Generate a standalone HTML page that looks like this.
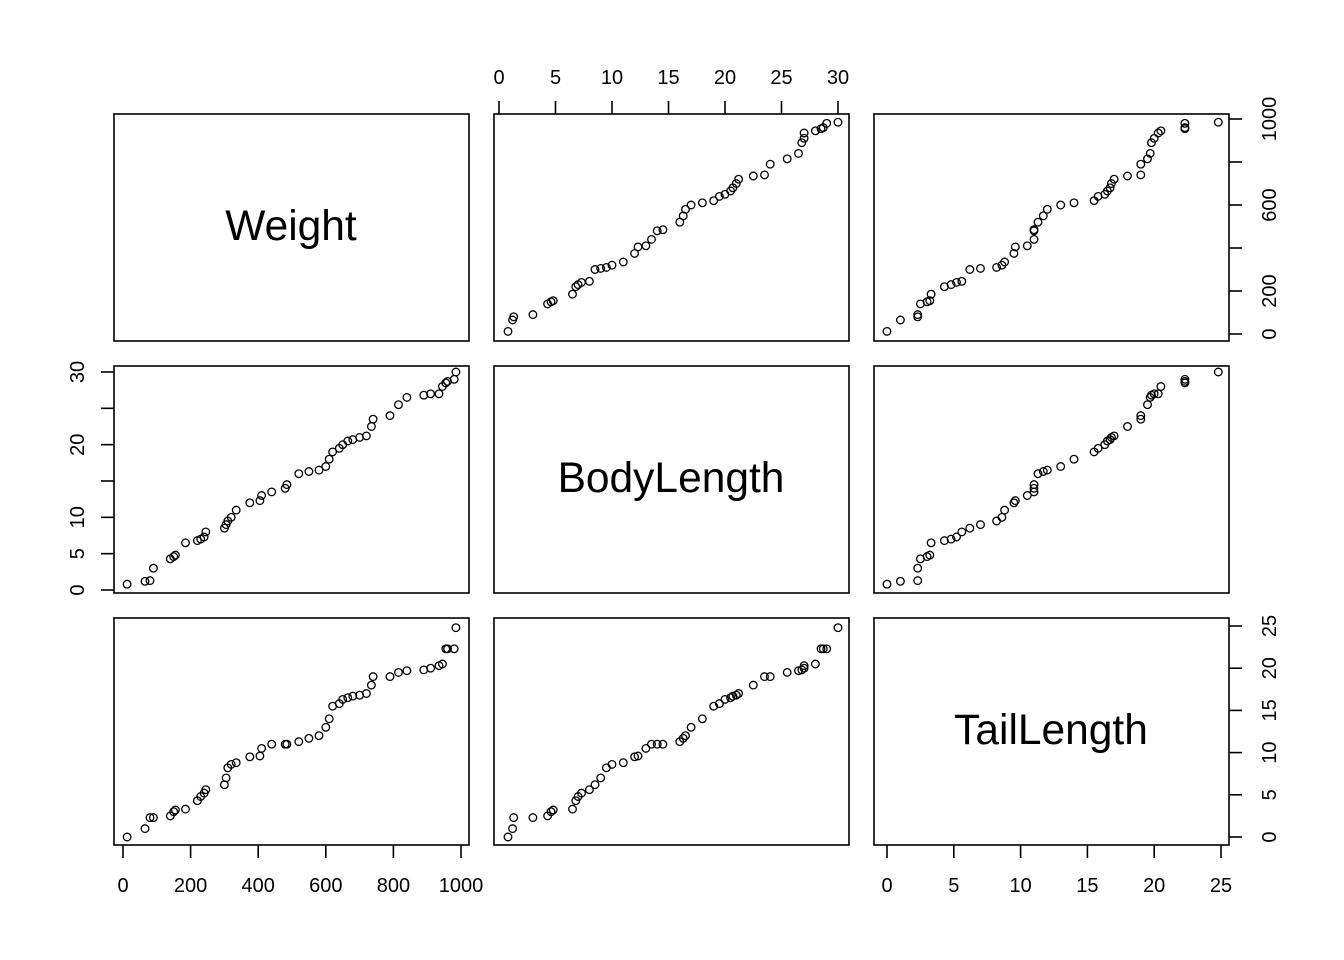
<!DOCTYPE html>
<html><head><meta charset="utf-8"><style>
html,body{margin:0;padding:0;background:#fff}
svg{display:block}
text{font-family:"Liberation Sans",Arial,sans-serif;fill:#000}
</style></head><body>
<svg id="s" width="1344" height="960" viewBox="0 0 1344 960" xmlns="http://www.w3.org/2000/svg">
<g fill="none" stroke="#000" stroke-width="1.6">
<rect x="114" y="114" width="355" height="227"/>
<rect x="494" y="114" width="355" height="227"/>
<rect x="874" y="114" width="355" height="227"/>
<rect x="114" y="366" width="355" height="227"/>
<rect x="494" y="366" width="355" height="227"/>
<rect x="874" y="366" width="355" height="227"/>
<rect x="114" y="618" width="355" height="227"/>
<rect x="494" y="618" width="355" height="227"/>
<rect x="874" y="618" width="355" height="227"/>
<g id="ticks"></g>
<g id="pts" stroke-width="1.3"></g>
</g>
<text x="291" y="240" font-size="42.5" text-anchor="middle">Weight</text>
<text x="671" y="492" font-size="42.5" text-anchor="middle">BodyLength</text>
<text x="1051" y="744" font-size="42.5" text-anchor="middle">TailLength</text>
<g font-size="20" text-anchor="middle">
<text x="499" y="84">0</text><text x="555.5" y="84">5</text><text x="612" y="84">10</text><text x="668.5" y="84">15</text><text x="725" y="84">20</text><text x="781.5" y="84">25</text><text x="838" y="84">30</text>
<text x="123" y="892">0</text><text x="190.6" y="892">200</text><text x="258.2" y="892">400</text><text x="325.8" y="892">600</text><text x="393.4" y="892">800</text><text x="461" y="892">1000</text>
<text x="887" y="892">0</text><text x="953.8" y="892">5</text><text x="1020.6" y="892">10</text><text x="1087.4" y="892">15</text><text x="1154.2" y="892">20</text><text x="1221" y="892">25</text>
<g transform="translate(84,0)">
<text transform="translate(0,590) rotate(-90)">0</text><text transform="translate(0,553.7) rotate(-90)">5</text><text transform="translate(0,517.3) rotate(-90)">10</text><text transform="translate(0,444.7) rotate(-90)">20</text><text transform="translate(0,372) rotate(-90)">30</text>
</g>
<g transform="translate(1276,0)">
<text transform="translate(0,334) rotate(-90)">0</text><text transform="translate(0,291) rotate(-90)">200</text><text transform="translate(0,205) rotate(-90)">600</text><text transform="translate(0,119) rotate(-90)">1000</text>
<text transform="translate(0,837) rotate(-90)">0</text><text transform="translate(0,794.8) rotate(-90)">5</text><text transform="translate(0,752.6) rotate(-90)">10</text><text transform="translate(0,710.4) rotate(-90)">15</text><text transform="translate(0,668.2) rotate(-90)">20</text><text transform="translate(0,626) rotate(-90)">25</text>
</g>
</g>
</svg>
<script>
var d=[[12,0.8,0],[65,1.2,1],[80,1.3,2.3],[90,3,2.3],[140,4.3,2.5],[150,4.6,3],[155,4.8,3.2],[185,6.5,3.3],[220,6.8,4.3],[230,7,4.8],[240,7.3,5.2],[245,8,5.6],[300,8.5,6.2],[305,9,7],[310,9.5,8.2],[320,10,8.6],[335,11,8.8],[375,12,9.5],[405,12.3,9.6],[410,13,10.5],[440,13.5,11],[480,14,11],[485,14.5,11],[520,16,11.3],[550,16.3,11.7],[580,16.5,12],[600,17,13],[610,18,14],[620,19,15.5],[640,19.5,15.8],[650,20,16.3],[665,20.5,16.5],[680,20.7,16.7],[700,21,16.8],[720,21.2,17],[735,22.5,18],[740,23.5,19],[790,24,19],[815,25.5,19.5],[840,26.5,19.7],[890,26.8,19.8],[910,27,20],[935,27,20.3],[945,28,20.5],[955,28.5,22.3],[960,28.7,22.3],[980,29,22.3],[985,30,24.8]];
var X=[function(v){return 123+v*0.338},function(v){return 499+v*11.3},function(v){return 887+v*13.36}];
var rowOff=[0,252,504];
var Y=[function(v){return 334-v*0.215},function(v){return 590-v*7.267-252},function(v){return 837-v*8.44-504}];
var h='';
for(var r=0;r<3;r++)for(var c=0;c<3;c++){if(r==c)continue;
for(var i=0;i<d.length;i++){var px=X[c](d[i][c]);var py=Y[r](d[i][r])+rowOff[r];
h+='<circle cx="'+px.toFixed(1)+'" cy="'+py.toFixed(1)+'" r="3.8"/>';}}
document.getElementById('pts').innerHTML=h;
var t='',k,L=13;
for(k=0;k<=30;k+=5){var x=499+k*11.3;t+='<line x1="'+x+'" y1="114" x2="'+x+'" y2="'+(114-L)+'"/>';}
for(k=0;k<=1000;k+=200){var x=123+k*0.338;t+='<line x1="'+x+'" y1="845" x2="'+x+'" y2="'+(845+L)+'"/>';}
for(k=0;k<=25;k+=5){var x=887+k*13.36;t+='<line x1="'+x+'" y1="845" x2="'+x+'" y2="'+(845+L)+'"/>';}
for(k=0;k<=30;k+=5){var y=590-k*7.267;t+='<line x1="114" y1="'+y+'" x2="'+(114-L)+'" y2="'+y+'"/>';}
for(k=0;k<=1000;k+=200){var y=334-k*0.215;t+='<line x1="1229" y1="'+y+'" x2="'+(1229+L)+'" y2="'+y+'"/>';}
for(k=0;k<=25;k+=5){var y=837-k*8.44;t+='<line x1="1229" y1="'+y+'" x2="'+(1229+L)+'" y2="'+y+'"/>';}
document.getElementById('ticks').innerHTML=t;
</script>
</body></html>
